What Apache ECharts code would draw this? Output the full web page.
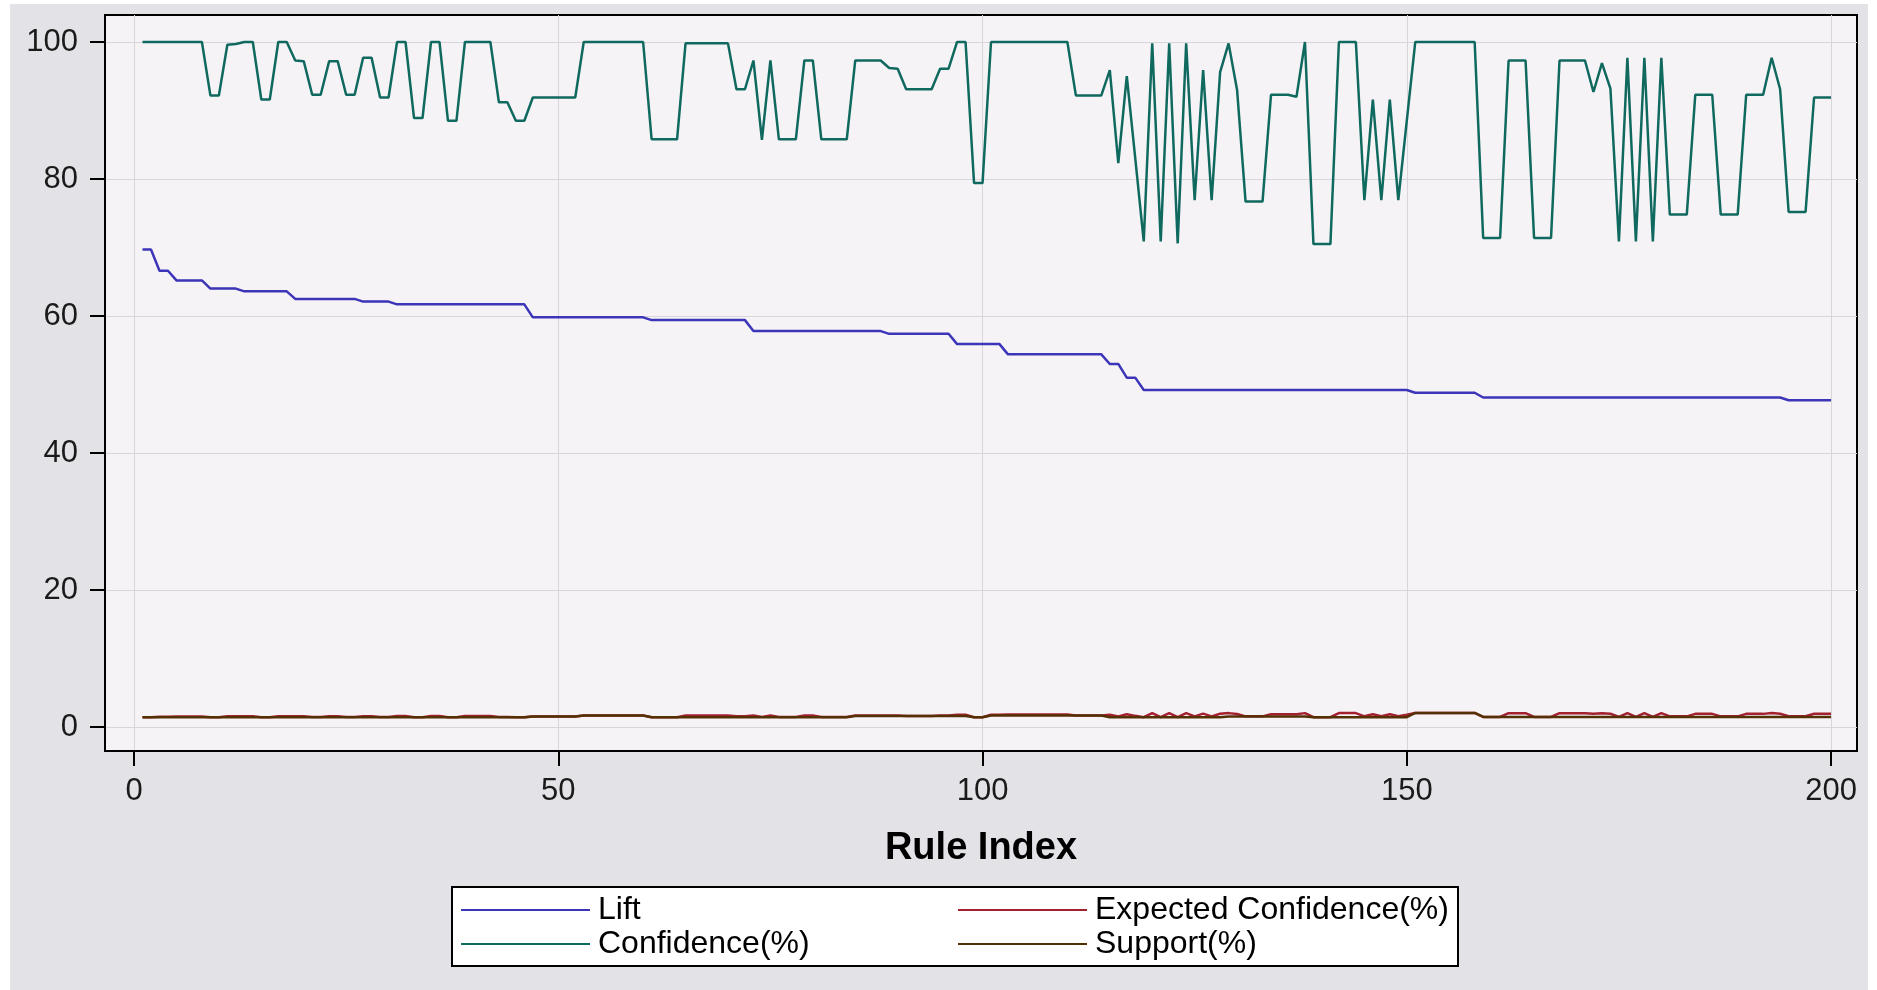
<!DOCTYPE html>
<html>
<head>
<meta charset="utf-8">
<script src="https://cdn.jsdelivr.net/npm/echarts@6.0.0/dist/echarts.min.js"></script>
<style>
  html, body { margin: 0; padding: 0; background: #ffffff; }
  #bg { position: absolute; left: 10px; top: 4px; width: 1858px; height: 986px; background: #e3e2e6; z-index: 0; }
  #chart { position: absolute; left: 0; top: 0; width: 1877px; height: 990px; z-index: 1; }
</style>
</head>
<body>
<div id="bg"></div>
<div id="chart"></div>
<script>
// ---- data (rule index 1..200) ----
const xTicks = [0, 50, 100, 150, 200];
const yTicks = [0, 20, 40, 60, 80, 100];
const seriesNames = ['Lift', 'Expected Confidence(%)', 'Confidence(%)', 'Support(%)'];

const lift = [
  69.7,69.7,66.6,66.6,65.2,65.2,65.2,65.2,64.0,64.0,
  64.0,64.0,63.6,63.6,63.6,63.6,63.6,63.6,62.5,62.5,
  62.5,62.5,62.5,62.5,62.5,62.5,62.1,62.1,62.1,62.1,
  61.7,61.7,61.7,61.7,61.7,61.7,61.7,61.7,61.7,61.7,
  61.7,61.7,61.7,61.7,61.7,61.7,59.8,59.8,59.8,59.8,
  59.8,59.8,59.8,59.8,59.8,59.8,59.8,59.8,59.8,59.8,
  59.4,59.4,59.4,59.4,59.4,59.4,59.4,59.4,59.4,59.4,
  59.4,59.4,57.8,57.8,57.8,57.8,57.8,57.8,57.8,57.8,
  57.8,57.8,57.8,57.8,57.8,57.8,57.8,57.8,57.4,57.4,
  57.4,57.4,57.4,57.4,57.4,57.4,55.9,55.9,55.9,55.9,
  55.9,55.9,54.4,54.4,54.4,54.4,54.4,54.4,54.4,54.4,
  54.4,54.4,54.4,54.4,53.0,53.0,51.0,51.0,49.2,49.2,
  49.2,49.2,49.2,49.2,49.2,49.2,49.2,49.2,49.2,49.2,
  49.2,49.2,49.2,49.2,49.2,49.2,49.2,49.2,49.2,49.2,
  49.2,49.2,49.2,49.2,49.2,49.2,49.2,49.2,49.2,49.2,
  48.8,48.8,48.8,48.8,48.8,48.8,48.8,48.8,48.1,48.1,
  48.1,48.1,48.1,48.1,48.1,48.1,48.1,48.1,48.1,48.1,
  48.1,48.1,48.1,48.1,48.1,48.1,48.1,48.1,48.1,48.1,
  48.1,48.1,48.1,48.1,48.1,48.1,48.1,48.1,48.1,48.1,
  48.1,48.1,48.1,48.1,47.7,47.7,47.7,47.7,47.7,47.7
];

const confidence = [
  100,100,100,100,100,100,100,100,92.2,92.2,
  99.6,99.7,100,100,91.6,91.6,100,100,97.3,97.2,
  92.3,92.3,97.2,97.2,92.3,92.3,97.7,97.7,91.9,91.9,
  100,100,88.9,88.9,100,100,88.5,88.5,100,100,
  100,100,91.2,91.2,88.5,88.5,91.9,91.9,91.9,91.9,
  91.9,91.9,100,100,100,100,100,100,100,100,
  85.8,85.8,85.8,85.8,99.8,99.8,99.8,99.8,99.8,99.8,
  93.1,93.1,97.3,85.7,97.3,85.8,85.8,85.8,97.3,97.3,
  85.8,85.8,85.8,85.8,97.3,97.3,97.3,97.3,96.2,96.1,
  93.1,93.1,93.1,93.1,96.1,96.1,100,100,79.4,79.4,
  100,100,100,100,100,100,100,100,100,100,
  92.2,92.2,92.2,92.2,95.9,82.3,95.0,83.0,70.9,99.8,
  70.9,99.8,70.6,99.8,76.9,95.9,76.9,95.6,99.8,93.0,
  76.7,76.7,76.7,92.3,92.3,92.3,92.0,100,70.5,70.5,
  70.5,100,100,100,76.9,91.6,76.9,91.6,76.9,88.5,
  100,100,100,100,100,100,100,100,71.4,71.4,
  71.4,97.3,97.3,97.3,71.4,71.4,71.4,97.3,97.3,97.3,
  97.3,92.7,96.9,93.2,70.9,97.7,70.9,97.7,70.9,97.7,
  74.8,74.8,74.8,92.3,92.3,92.3,74.8,74.8,74.8,92.3,
  92.3,92.3,97.7,93.1,75.2,75.2,75.2,91.9,91.9,91.9
];

const expectedConfidence = [
  1.43,1.43,1.50,1.50,1.53,1.53,1.53,1.53,1.44,1.44,
  1.56,1.56,1.57,1.57,1.44,1.44,1.57,1.57,1.56,1.56,
  1.48,1.48,1.56,1.56,1.48,1.48,1.57,1.57,1.48,1.48,
  1.62,1.62,1.44,1.44,1.62,1.62,1.43,1.43,1.62,1.62,
  1.62,1.62,1.48,1.48,1.43,1.43,1.54,1.54,1.54,1.54,
  1.54,1.54,1.67,1.67,1.67,1.67,1.67,1.67,1.67,1.67,
  1.44,1.44,1.44,1.44,1.68,1.68,1.68,1.68,1.68,1.68,
  1.57,1.57,1.68,1.48,1.68,1.48,1.48,1.48,1.68,1.68,
  1.48,1.48,1.48,1.48,1.68,1.68,1.68,1.68,1.68,1.67,
  1.62,1.62,1.62,1.62,1.67,1.67,1.79,1.79,1.42,1.42,
  1.79,1.79,1.84,1.84,1.84,1.84,1.84,1.84,1.84,1.84,
  1.69,1.69,1.69,1.69,1.81,1.55,1.86,1.63,1.44,2.03,
  1.44,2.03,1.43,2.03,1.56,1.95,1.56,1.94,2.03,1.89,
  1.56,1.56,1.56,1.88,1.88,1.88,1.87,2.03,1.43,1.43,
  1.43,2.03,2.03,2.03,1.56,1.86,1.56,1.86,1.56,1.80,
  2.05,2.05,2.05,2.05,2.05,2.05,2.05,2.05,1.48,1.48,
  1.48,2.02,2.02,2.02,1.48,1.48,1.48,2.02,2.02,2.02,
  2.02,1.93,2.01,1.94,1.47,2.03,1.47,2.03,1.47,2.03,
  1.56,1.56,1.56,1.92,1.92,1.92,1.56,1.56,1.56,1.92,
  1.92,1.92,2.03,1.94,1.58,1.58,1.58,1.93,1.93,1.93
];

const support = [
  1.43,1.43,1.43,1.43,1.43,1.43,1.43,1.43,1.43,1.43,
  1.43,1.43,1.43,1.43,1.43,1.43,1.43,1.43,1.43,1.43,
  1.43,1.43,1.43,1.43,1.43,1.43,1.43,1.43,1.43,1.43,
  1.43,1.43,1.43,1.43,1.43,1.43,1.43,1.43,1.43,1.43,
  1.43,1.43,1.43,1.43,1.43,1.43,1.54,1.54,1.54,1.54,
  1.54,1.54,1.67,1.67,1.67,1.67,1.67,1.67,1.67,1.67,
  1.44,1.44,1.44,1.44,1.44,1.44,1.44,1.44,1.44,1.44,
  1.44,1.44,1.44,1.44,1.44,1.44,1.44,1.44,1.44,1.44,
  1.44,1.44,1.44,1.44,1.62,1.62,1.62,1.62,1.62,1.62,
  1.62,1.62,1.62,1.62,1.62,1.62,1.62,1.62,1.42,1.42,
  1.68,1.68,1.68,1.68,1.68,1.68,1.68,1.68,1.68,1.68,
  1.68,1.68,1.68,1.68,1.43,1.43,1.43,1.43,1.43,1.43,
  1.43,1.43,1.43,1.43,1.43,1.43,1.43,1.43,1.52,1.52,
  1.52,1.52,1.52,1.52,1.52,1.52,1.52,1.52,1.43,1.43,
  1.43,1.43,1.43,1.43,1.43,1.43,1.43,1.43,1.43,1.43,
  2.05,2.05,2.05,2.05,2.05,2.05,2.05,2.05,1.47,1.47,
  1.47,1.47,1.47,1.47,1.47,1.47,1.47,1.47,1.47,1.47,
  1.47,1.47,1.47,1.47,1.47,1.47,1.47,1.47,1.47,1.47,
  1.47,1.47,1.47,1.47,1.47,1.47,1.47,1.47,1.47,1.47,
  1.47,1.47,1.47,1.47,1.47,1.47,1.47,1.47,1.47,1.47
];

// rule index (x positions) 1..200
const ruleIndex = lift.map((_, i) => i + 1);

const FONT = '"Liberation Sans", Arial, "DejaVu Sans", sans-serif';
const colors = {
  'Lift': '#3d35b8',
  'Expected Confidence(%)': '#a3202f',
  'Confidence(%)': '#10695f',
  'Support(%)': '#543005'
};
const valuesByName = {
  'Lift': lift,
  'Expected Confidence(%)': expectedConfidence,
  'Confidence(%)': confidence,
  'Support(%)': support
};

const chart = echarts.init(document.getElementById('chart'), null, { renderer: 'canvas' });

function legendItem(name, left, top) {
  return {
    data: [{ name: name, icon: 'rect' }],
    left: left, top: top,
    orient: 'horizontal',
    padding: 0,
    itemGap: 0,
    itemWidth: 129,
    itemHeight: 2,
    selectedMode: false,
    textStyle: { fontSize: 32, fontFamily: FONT, color: '#000', lineHeight: 32, padding: [0, 0, 0, 3] }
  };
}

const option = {
  animation: false,
  backgroundColor: 'transparent',
  textStyle: { fontFamily: FONT },
  grid: {
    left: 105, top: 15, right: 20, bottom: 239,
    show: true,
    backgroundColor: '#f6f3f7',
    borderColor: '#000',
    borderWidth: 2,
    containLabel: false
  },
  xAxis: {
    type: 'value',
    min: -3.42,
    max: 203.06,
    name: 'Rule Index',
    nameLocation: 'middle',
    nameGap: 79,
    nameTextStyle: { fontSize: 38, fontWeight: 'bold', color: '#000', fontFamily: FONT },
    axisLine: { show: true, onZero: false, lineStyle: { color: '#000', width: 2 } },
    axisTick: { show: true, inside: false, length: 15, customValues: xTicks, lineStyle: { color: '#000', width: 2 } },
    axisLabel: { customValues: xTicks, fontSize: 31, color: '#1a1a1a', margin: 25, fontFamily: FONT },
    splitLine: { show: true, lineStyle: { color: '#d8d6db', width: 1 } }
  },
  yAxis: {
    type: 'value',
    min: -3.5,
    max: 103.94,
    axisLine: { show: true, onZero: false, lineStyle: { color: '#000', width: 2 } },
    axisTick: { show: true, inside: false, length: 15, customValues: yTicks, lineStyle: { color: '#000', width: 2 } },
    axisLabel: { customValues: yTicks, fontSize: 31, color: '#1a1a1a', margin: 27, fontFamily: FONT },
    splitLine: { show: true, lineStyle: { color: '#d8d6db', width: 1 } }
  },
  legend: [
    legendItem('Lift', 461, 894),
    legendItem('Expected Confidence(%)', 958, 894),
    legendItem('Confidence(%)', 461, 928),
    legendItem('Support(%)', 958, 928)
  ],
  graphic: [
    {
      type: 'rect',
      left: 451, top: 886,
      z: 0,
      shape: { width: 1006, height: 79 },
      style: { fill: '#ffffff', stroke: '#000000', lineWidth: 2 }
    }
  ],
  series: seriesNames.map(name => ({
    name: name,
    type: 'line',
    symbol: 'none',
    showSymbol: false,
    clip: true,
    color: colors[name],
    lineStyle: { color: colors[name], width: 2.5 },
    itemStyle: { color: colors[name] },
    emphasis: { disabled: true },
    data: ruleIndex.map((x, i) => [x, valuesByName[name][i]])
  }))
};

chart.setOption(option);
</script>
</body>
</html>
